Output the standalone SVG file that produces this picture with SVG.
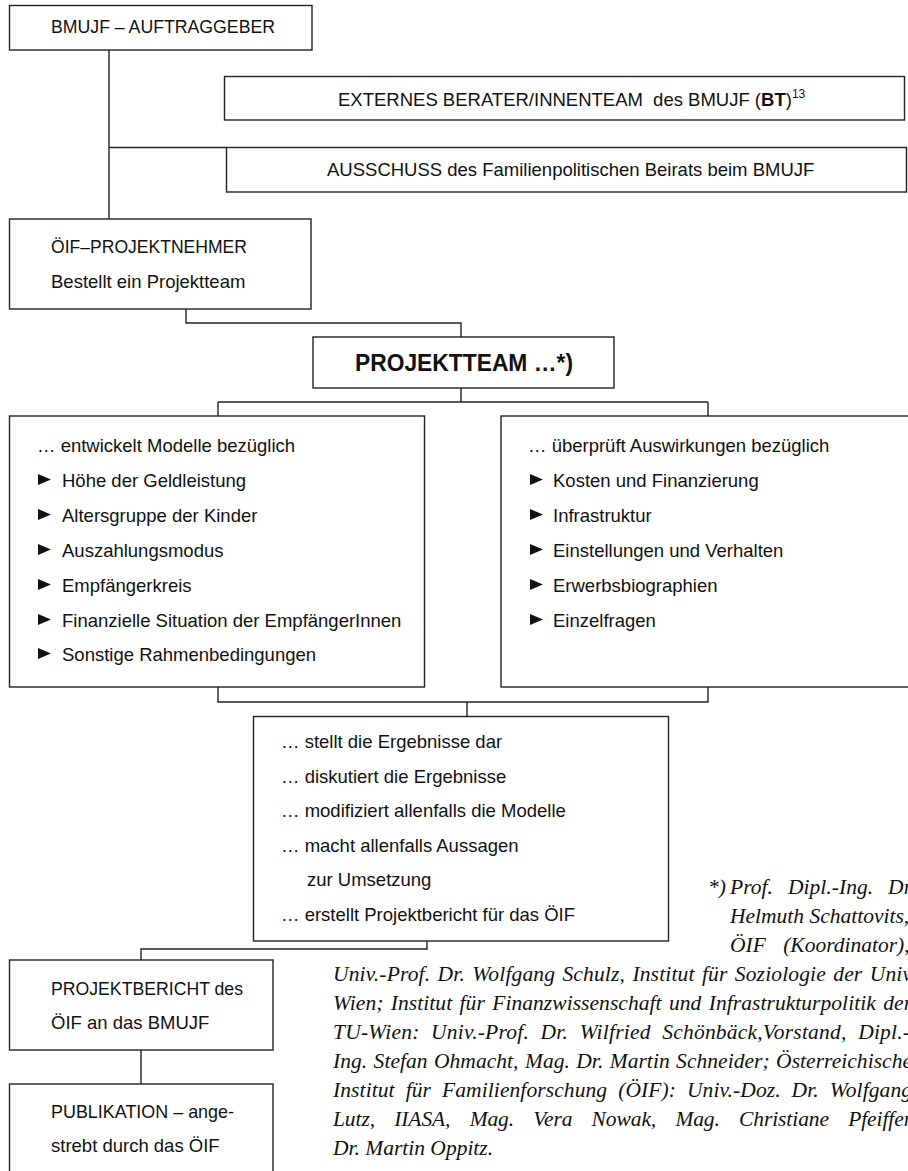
<svg xmlns="http://www.w3.org/2000/svg" xmlns:xlink="http://www.w3.org/1999/xlink" width="908" height="1171" viewBox="0 0 908 1171">
<style>
.box{fill:#fff;stroke:#222;stroke-width:1.4}
.con{fill:none;stroke:#222;stroke-width:1.4}
.t{font-family:"Liberation Sans",Arial,sans-serif;font-size:18.5px;fill:#111}
.b{font-family:"Liberation Sans",Arial,sans-serif;font-size:24px;font-weight:bold;fill:#111}
.fn{font-family:"Liberation Serif","Times New Roman",serif;font-style:italic;font-size:21.5px;fill:#111}
</style>
<defs>
<path id="bul" d="M0,0 L13,5.5 L0,11 Z" fill="#111"/>
</defs>
<rect width="908" height="1171" fill="#fff"/>
<g id="connectors">
<path class="con" d="M109,50 V219"/>
<path class="con" d="M109,147.5 H226.5"/>
<path class="con" d="M186,309 V323 H461 V337"/>
<path class="con" d="M461,388 V402"/>
<path class="con" d="M218,402 H708"/>
<path class="con" d="M218,402 V416"/>
<path class="con" d="M708,402 V416"/>
<path class="con" d="M218,687 V702 H708 V687"/>
<path class="con" d="M467,702 V716.5"/>
<path class="con" d="M427,941 V949 H141 V960"/>
<path class="con" d="M141,1050 V1084"/>
</g>
<g id="auftraggeber">
<rect class="box" x="9.5" y="5.5" width="302.5" height="44.5"/>
<text class="t" x="51" y="33" textLength="224" lengthAdjust="spacingAndGlyphs">BMUJF – AUFTRAGGEBER</text>
</g>
<g id="beraterteam">
<rect class="box" x="224.5" y="76.5" width="680" height="43.5"/>
<text class="t" x="338" y="106">EXTERNES BERATER/INNENTEAM <tspan dx="5">des BMUJF (</tspan><tspan font-weight="bold">BT</tspan>)<tspan font-size="12" dy="-8">13</tspan></text>
</g>
<g id="ausschuss">
<rect class="box" x="226.5" y="147.5" width="680" height="44.5"/>
<text class="t" x="327" y="176">AUSSCHUSS des Familienpolitischen Beirats beim BMUJF</text>
</g>
<g id="projektnehmer">
<rect class="box" x="9.5" y="219" width="301.5" height="90"/>
<text class="t" x="51" y="253" textLength="196" lengthAdjust="spacingAndGlyphs">ÖIF–PROJEKTNEHMER</text>
<text class="t" x="51" y="287.5">Bestellt ein Projektteam</text>
</g>
<g id="projektteam">
<rect class="box" x="313" y="337" width="301" height="51"/>
<text class="b" x="355" y="371" textLength="218" lengthAdjust="spacingAndGlyphs">PROJEKTTEAM …*)</text>
</g>
<g id="modelle">
<rect class="box" x="9.5" y="416" width="415" height="271"/>
<text class="t" x="37" y="452">… entwickelt Modelle bezüglich</text>
<use xlink:href="#bul" x="38" y="474"/>
<text class="t" x="62" y="487">Höhe der Geldleistung</text>
<use xlink:href="#bul" x="38" y="509"/>
<text class="t" x="62" y="522">Altersgruppe der Kinder</text>
<use xlink:href="#bul" x="38" y="544"/>
<text class="t" x="62" y="557">Auszahlungsmodus</text>
<use xlink:href="#bul" x="38" y="579"/>
<text class="t" x="62" y="592">Empfängerkreis</text>
<use xlink:href="#bul" x="38" y="614"/>
<text class="t" x="62" y="627">Finanzielle Situation der EmpfängerInnen</text>
<use xlink:href="#bul" x="38" y="648"/>
<text class="t" x="62" y="661">Sonstige Rahmenbedingungen</text>
</g>
<g id="auswirkungen">
<rect class="box" x="501" y="416" width="420" height="271"/>
<text class="t" x="528" y="452">… überprüft Auswirkungen bezüglich</text>
<use xlink:href="#bul" x="530" y="474"/>
<text class="t" x="553" y="487">Kosten und Finanzierung</text>
<use xlink:href="#bul" x="530" y="509"/>
<text class="t" x="553" y="522">Infrastruktur</text>
<use xlink:href="#bul" x="530" y="544"/>
<text class="t" x="553" y="557">Einstellungen und Verhalten</text>
<use xlink:href="#bul" x="530" y="579"/>
<text class="t" x="553" y="592">Erwerbsbiographien</text>
<use xlink:href="#bul" x="530" y="614"/>
<text class="t" x="553" y="627">Einzelfragen</text>
</g>
<g id="ergebnisse">
<rect class="box" x="253.5" y="716.5" width="415" height="224.5"/>
<text class="t" x="281" y="748">… stellt die Ergebnisse dar</text>
<text class="t" x="281" y="783">… diskutiert die Ergebnisse</text>
<text class="t" x="281" y="817">… modifiziert allenfalls die Modelle</text>
<text class="t" x="281" y="852">… macht allenfalls Aussagen</text>
<text class="t" x="307" y="886">zur Umsetzung</text>
<text class="t" x="281" y="921">… erstellt Projektbericht für das ÖIF</text>
</g>
<g id="projektbericht">
<rect class="box" x="9.5" y="960" width="263.5" height="90"/>
<text class="t" x="51" y="995" textLength="192" lengthAdjust="spacingAndGlyphs">PROJEKTBERICHT des</text>
<text class="t" x="51" y="1029">ÖIF an das BMUJF</text>
</g>
<g id="publikation">
<rect class="box" x="9.5" y="1084" width="263.5" height="100"/>
<text class="t" x="51" y="1118" textLength="183" lengthAdjust="spacingAndGlyphs">PUBLIKATION – ange-</text>
<text class="t" x="51" y="1152">strebt durch das ÖIF</text>
</g>
<g id="footnote">
<text class="fn" x="708" y="894">*)</text>
<text class="fn" x="730" y="894" style="word-spacing:9.5px" textLength="182" lengthAdjust="spacing">Prof. Dipl.-Ing. Dr</text>
<text class="fn" x="730" y="923">Helmuth Schattovits,</text>
<text class="fn" x="730" y="952" style="word-spacing:12px">ÖIF (Koordinator),</text>
<text class="fn" x="333" y="981" style="word-spacing:1.8px" textLength="579" lengthAdjust="spacing">Univ.-Prof. Dr. Wolfgang Schulz, Institut für Soziologie der Univ</text>
<text class="fn" x="333" y="1010" style="word-spacing:2px" textLength="579" lengthAdjust="spacing">Wien; Institut für Finanzwissenschaft und Infrastrukturpolitik der</text>
<text class="fn" x="333" y="1039" style="word-spacing:6px" textLength="577" lengthAdjust="spacing">TU-Wien: Univ.-Prof. Dr. Wilfried Schönbäck,Vorstand, Dipl.-</text>
<text class="fn" x="333" y="1068" style="word-spacing:1px" textLength="579" lengthAdjust="spacing">Ing. Stefan Ohmacht, Mag. Dr. Martin Schneider; Österreichische</text>
<text class="fn" x="333" y="1097" style="word-spacing:5.5px" textLength="579" lengthAdjust="spacing">Institut für Familienforschung (ÖIF): Univ.-Doz. Dr. Wolfgang</text>
<text class="fn" x="333" y="1126" style="word-spacing:14px" textLength="579" lengthAdjust="spacing">Lutz, IIASA, Mag. Vera Nowak, Mag. Christiane Pfeiffer</text>
<text class="fn" x="333" y="1155">Dr. Martin Oppitz.</text>
</g>
</svg>
